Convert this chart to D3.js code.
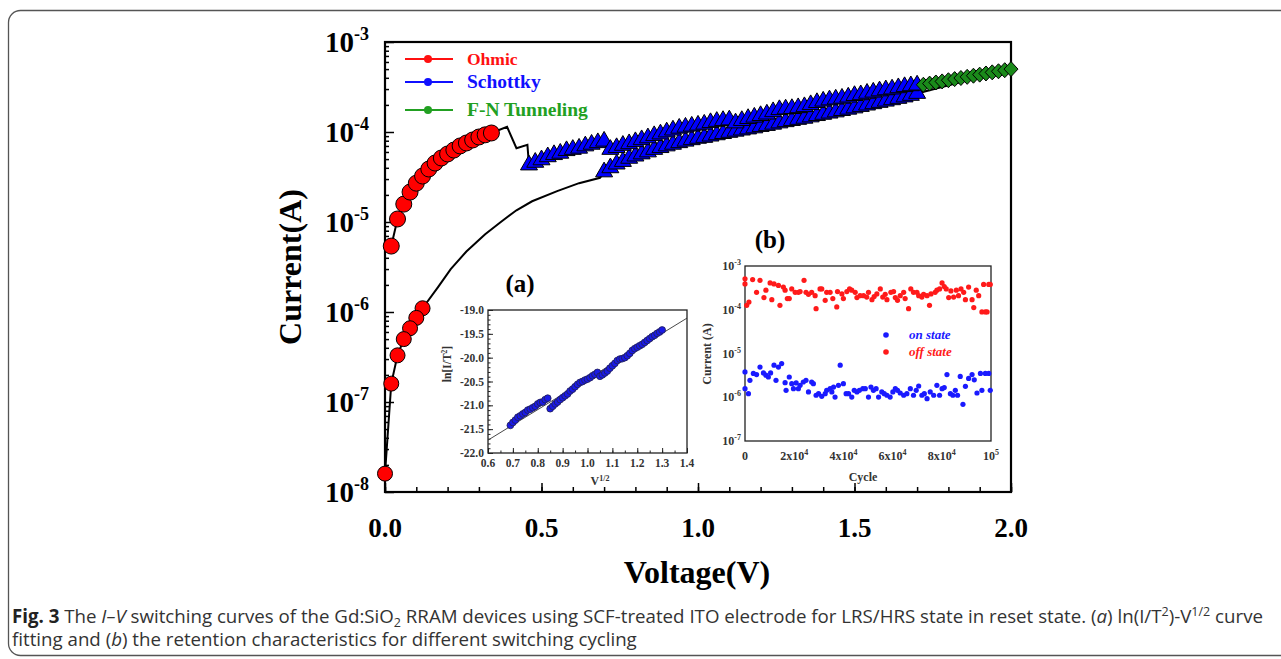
<!DOCTYPE html>
<html>
<head>
<meta charset="utf-8">
<script src="https://cdn.jsdelivr.net/npm/d3@7"></script>
<style>
  body { margin: 0; background: #fff; }
  svg { display: block; }
  .serif { font-family: "Liberation Serif", "DejaVu Serif", serif; font-weight: bold; }
  .cap { font-family: "Open Sans", sans-serif; fill: #333; }
</style>
</head>
<body>
<script>
// ---------- main I-V data ----------
var ohmicHighV = [0.02, 0.04, 0.06, 0.08, 0.10, 0.12, 0.14, 0.16, 0.18, 0.20, 0.22, 0.24, 0.26, 0.28, 0.30, 0.32, 0.34];
var ohmicHighI = [5.4e-6, 1.08e-5, 1.58e-5, 2.15e-5, 2.7e-5, 3.24e-5, 3.88e-5, 4.52e-5, 5.14e-5, 5.7e-5, 6.3e-5, 7.0e-5, 7.55e-5, 8.15e-5, 8.8e-5, 9.3e-5, 9.75e-5];

var resetV = [0.34, 0.39, 0.42, 0.455];
var resetI = [9.75e-5, 1.14e-4, 6.6e-5, 7.2e-5];

var schottkyUpV = [0.46, 0.48, 0.50, 0.52, 0.54, 0.56, 0.58, 0.60, 0.62, 0.64, 0.66, 0.68, 0.70,
  0.72, 0.74, 0.76, 0.78, 0.80, 0.82, 0.84, 0.86, 0.88, 0.90, 0.92, 0.94, 0.96, 0.98, 1.00,
  1.02, 1.04, 1.06, 1.08, 1.10, 1.12, 1.14, 1.16, 1.18, 1.20, 1.22, 1.24, 1.26, 1.28, 1.30,
  1.32, 1.34, 1.36, 1.38, 1.40, 1.42, 1.44, 1.46, 1.48, 1.50, 1.52, 1.54, 1.56, 1.58, 1.60,
  1.62, 1.64, 1.66, 1.68, 1.70];
var schottkyUpI = [4.3e-5, 4.6e-5, 4.9e-5, 5.3e-5, 5.6e-5, 5.8e-5, 6.2e-5, 6.4e-5, 6.6e-5, 7.0e-5, 7.3e-5, 7.6e-5, 7.9e-5,
  6.4e-5, 6.7e-5, 7.1e-5, 7.4e-5, 7.8e-5, 8.2e-5, 8.6e-5, 9.1e-5, 9.5e-5, 1.0e-4, 1.05e-4, 1.1e-4, 1.13e-4, 1.16e-4, 1.19e-4,
  1.22e-4, 1.27e-4, 1.31e-4, 1.34e-4, 1.36e-4, 1.26e-4, 1.34e-4, 1.41e-4, 1.46e-4, 1.52e-4, 1.58e-4, 1.68e-4, 1.77e-4, 1.80e-4, 1.82e-4,
  1.86e-4, 1.91e-4, 2.01e-4, 2.12e-4, 2.2e-4, 2.27e-4, 2.32e-4, 2.37e-4, 2.44e-4, 2.54e-4, 2.59e-4, 2.69e-4, 2.77e-4, 2.86e-4, 2.94e-4,
  3.0e-4, 3.1e-4, 3.19e-4, 3.26e-4, 3.32e-4];

var fnV = [1.72, 1.74, 1.76, 1.78, 1.80, 1.82, 1.84, 1.86, 1.88, 1.90, 1.92, 1.94, 1.96, 1.98, 2.00];
var fnI = [3.35e-4, 3.45e-4, 3.55e-4, 3.65e-4, 3.76e-4, 3.87e-4, 3.98e-4, 4.10e-4, 4.22e-4, 4.34e-4, 4.47e-4, 4.60e-4, 4.73e-4, 4.86e-4, 5.0e-4];

// reverse sweep (HRS), listed from high voltage to low
var schottkyDownV = [1.70, 1.68, 1.66, 1.64, 1.62, 1.60, 1.58, 1.56, 1.54, 1.52, 1.50, 1.48, 1.46, 1.44, 1.42, 1.40,
  1.38, 1.36, 1.34, 1.32, 1.30, 1.28, 1.26, 1.24, 1.22, 1.20, 1.18, 1.16, 1.14, 1.12, 1.10, 1.08, 1.06, 1.04,
  1.02, 1.00, 0.98, 0.96, 0.94, 0.92, 0.90, 0.88, 0.86, 0.84, 0.82, 0.80, 0.78, 0.76, 0.74, 0.72, 0.70];
var schottkyDownI = [2.68e-4, 2.55e-4, 2.45e-4, 2.36e-4, 2.28e-4, 2.20e-4, 2.13e-4, 2.06e-4, 1.99e-4, 1.92e-4, 1.85e-4, 1.79e-4, 1.73e-4, 1.67e-4, 1.62e-4, 1.57e-4,
  1.52e-4, 1.47e-4, 1.42e-4, 1.38e-4, 1.34e-4, 1.30e-4, 1.26e-4, 1.22e-4, 1.18e-4, 1.15e-4, 1.11e-4, 1.08e-4, 1.05e-4, 1.02e-4, 9.9e-5, 9.6e-5, 9.3e-5, 9.0e-5,
  8.7e-5, 8.5e-5, 8.2e-5, 7.9e-5, 7.6e-5, 7.3e-5, 7.0e-5, 6.7e-5, 6.4e-5, 6.0e-5, 5.7e-5, 5.4e-5, 5.1e-5, 4.7e-5, 4.4e-5, 4.0e-5, 3.6e-5];

var hrsLineV = [0.687, 0.62, 0.55, 0.47, 0.42, 0.37, 0.32, 0.26, 0.21, 0.17, 0.12];
var hrsLineI = [3.1e-5, 2.7e-5, 2.2e-5, 1.7e-5, 1.35e-5, 1.0e-5, 7.3e-6, 4.7e-6, 3.0e-6, 1.9e-6, 1.1e-6];

var ohmicLowV = [0.12, 0.10, 0.08, 0.06, 0.04, 0.02, 0.0];
var ohmicLowI = [1.1e-6, 8.6e-7, 6.6e-7, 5.0e-7, 3.3e-7, 1.6e-7, 1.6e-8];

var xTicksMain = [0.0, 0.5, 1.0, 1.5, 2.0];
var yExpMain = [-3, -4, -5, -6, -7, -8];

// ---------- inset (a): ln(I/T^2) vs V^1/2 ----------
var insetAX = [0.69, 0.70, 0.71, 0.72, 0.73, 0.74, 0.75, 0.76, 0.77, 0.78, 0.79, 0.80, 0.81, 0.82, 0.83, 0.84,
  0.85, 0.86, 0.87, 0.88, 0.89, 0.90, 0.91, 0.92, 0.93, 0.94, 0.95, 0.96, 0.97, 0.98, 0.99, 1.00, 1.01, 1.02,
  1.03, 1.04, 1.05, 1.06, 1.07, 1.08, 1.09, 1.10, 1.11, 1.12, 1.13, 1.14, 1.15, 1.16, 1.17, 1.18, 1.19, 1.20,
  1.21, 1.22, 1.23, 1.24, 1.25, 1.26, 1.27, 1.28, 1.29, 1.30];
var insetAY = [-21.42, -21.36, -21.31, -21.25, -21.22, -21.18, -21.15, -21.10, -21.08, -21.05, -21.02, -20.97, -20.94, -20.93, -20.88, -20.85,
  -21.07, -21.02, -20.97, -20.93, -20.88, -20.84, -20.80, -20.76, -20.70, -20.66, -20.61, -20.56, -20.52, -20.50, -20.47, -20.45, -20.42, -20.38,
  -20.35, -20.31, -20.39, -20.36, -20.32, -20.28, -20.22, -20.17, -20.12, -20.06, -20.03, -20.02, -20.00, -19.96, -19.91, -19.85, -19.81, -19.78,
  -19.75, -19.72, -19.68, -19.64, -19.60, -19.56, -19.53, -19.49, -19.46, -19.42];
var fitX = [0.6, 1.4];
var fitY = [-21.73, -19.17];
var insetAXTicks = [0.6, 0.7, 0.8, 0.9, 1.0, 1.1, 1.2, 1.3, 1.4];
var insetAYTicks = [-19.0, -19.5, -20.0, -20.5, -21.0, -21.5, -22.0];

// ---------- inset (b): retention vs cycle ----------
var offCycle = [0, 0, 700, 1600, 3100, 4700, 6100, 7700, 8500, 10200, 10900, 11800, 13600, 14200, 15600, 16300, 17200, 18000,
  19000, 20400, 21700, 22400, 24000, 24800, 25800, 27100, 28500, 28900, 30500, 31200, 32600, 33200, 34600, 35700, 37300,
  37600, 39400, 40000, 41400, 42500, 43400, 44800, 45500, 46800, 48200, 49500, 50200, 51600, 52500, 53600, 55000, 56000,
  57000, 57700, 59300, 60400, 61100, 62000, 63100, 64500, 65100, 66500, 67400, 68500, 69900, 70600, 71900, 72600, 74000,
  75000, 75600, 77300, 78000, 79100, 80100, 81000, 81800, 82800, 83700, 84800, 85900, 86800, 87800, 88900, 89600, 90900,
  92300, 93000, 94000, 95000, 96300, 97000, 97700, 98400, 99100, 99700];
var offCurrent = [5.1e-4, 3.9e-4, 1.26e-4, 1.5e-4, 4.9e-4, 2.5e-4, 4.7e-4, 1.9e-4, 2.8e-4, 4.1e-4, 1.7e-4, 3.9e-4, 3.6e-4, 1.26e-4, 3.3e-4, 2.8e-4, 1.8e-4, 1.8e-4,
  3.0e-4, 2.5e-4, 2.5e-4, 2.6e-4, 4.7e-4, 2.5e-4, 2.25e-4, 2.5e-4, 2.1e-4, 1.06e-4, 3.0e-4, 3.0e-4, 1.64e-4, 2.5e-4, 2.5e-4, 1.8e-4, 1.16e-4,
  2.6e-4, 2.3e-4, 1.8e-4, 2.6e-4, 3.0e-4, 2.8e-4, 2.5e-4, 1.9e-4, 2.1e-4, 2.1e-4, 1.95e-4, 2.5e-4, 1.7e-4, 2.0e-4, 2.3e-4, 3.0e-4, 1.95e-4,
  2.25e-4, 1.7e-4, 2.5e-4, 2.6e-4, 1.9e-4, 1.64e-4, 2.1e-4, 2.5e-4, 1.8e-4, 1.06e-4, 3.0e-4, 2.5e-4, 2.5e-4, 2.1e-4, 1.95e-4, 2.25e-4, 2.1e-4,
  1.26e-4, 2.3e-4, 2.5e-4, 2.8e-4, 3.0e-4, 4.1e-4, 3.4e-4, 3.0e-4, 1.9e-4, 2.7e-4, 1.95e-4, 2.8e-4, 2.1e-4, 3.0e-4, 2.5e-4, 1.7e-4, 3.3e-4,
  1.7e-4, 1.12e-4, 2.8e-4, 2.1e-4, 8.9e-5, 3.8e-4, 8.9e-5, 8.9e-5, 3.8e-4, 3.8e-4];
var onCycle = [0, 0, 1400, 2000, 3400, 4700, 6100, 7500, 8500, 9500, 10400, 11800, 12600, 13600, 14900, 16300, 16700, 18000,
  19000, 19700, 20800, 21700, 22400, 23700, 24800, 25800, 27100, 27800, 28900, 29900, 31200, 32600, 33200, 34600, 35300,
  36000, 36600, 38000, 38700, 40000, 41100, 42100, 43400, 44400, 45500, 46500, 47900, 48900, 50200, 51200, 52200, 53300,
  54300, 55600, 56600, 57700, 59000, 60100, 61100, 62000, 63100, 64500, 65800, 67200, 68500, 69600, 70600, 71900, 72900,
  74000, 75300, 76700, 78000, 79100, 80100, 81000, 82100, 83500, 84500, 85500, 86400, 87500, 88600, 89600, 90900, 92300,
  93200, 94300, 95700, 96300, 97700, 99100, 99700];
var onCurrent = [3.8e-6, 1.57e-6, 1.21e-6, 2.44e-6, 3.5e-6, 3.3e-6, 4.9e-6, 3.6e-6, 3.2e-6, 2.9e-6, 3.6e-6, 5.4e-6, 2.44e-6, 4.9e-6, 5.9e-6, 2.15e-6, 1.44e-6, 2.9e-6,
  2.04e-6, 1.57e-6, 2.12e-6, 1.57e-6, 1.87e-6, 2.23e-6, 2.44e-6, 1.32e-6, 2.23e-6, 2.04e-6, 1.11e-6, 1.21e-6, 1.05e-6, 1.21e-6, 1.44e-6, 1.57e-6, 1.32e-6,
  1.71e-6, 1.01e-6, 1.87e-6, 5.4e-6, 2.04e-6, 1.21e-6, 1.21e-6, 1.01e-6, 1.44e-6, 1.32e-6, 1.44e-6, 1.57e-6, 1.57e-6, 1.01e-6, 1.71e-6, 1.44e-6, 1.57e-6,
  1.01e-6, 1.32e-6, 1.21e-6, 1.11e-6, 1.01e-6, 1.32e-6, 1.57e-6, 1.44e-6, 1.25e-6, 1.11e-6, 1.21e-6, 1.57e-6, 1.11e-6, 1.44e-6, 1.81e-6, 1.11e-6, 1.21e-6,
  9.3e-7, 1.32e-6, 1.11e-6, 1.87e-6, 1.11e-6, 1.57e-6, 1.66e-6, 3.3e-6, 1.21e-6, 1.11e-6, 1.44e-6, 1.11e-6, 3.0e-6, 6.9e-7, 1.78e-6, 2.7e-6, 3.3e-6,
  2.5e-6, 1.25e-6, 3.5e-6, 1.44e-6, 3.5e-6, 3.5e-6, 1.44e-6];
var insetBYExp = [-3, -4, -5, -6, -7];
var insetBXTicks = [0, 20000, 40000, 60000, 80000, 100000];

var legendNames = ["Ohmic", "Schottky", "F-N Tunneling"];
var legendColors = ["#ff1010", "#1010ff", "#22a022"];

// ---------- svg ----------
var svg = d3.select("body").append("svg")
    .attr("width", 1281)
    .attr("height", 659);

// outer rounded frame
svg.append("rect")
    .attr("x", 8.5).attr("y", 10.5)
    .attr("width", 1300).attr("height", 645)
    .attr("rx", 12)
    .attr("fill", "none").attr("stroke", "#555").attr("stroke-width", 1.3);

function zip(a, b) { return a.map(function(d, i) { return [d, b[i]]; }); }

// scales for the main plot
var x = d3.scaleLinear().domain([0, 2]).range([385, 1011]);
var y = d3.scaleLog().domain([1e-8, 1e-3]).range([492, 42]);

// ticks (inward)
var isMajor = function(v) { return Math.abs(Math.log10(v) - Math.round(Math.log10(v))) < 1e-6; };
var gy = svg.append("g").attr("transform", "translate(385,0)");
gy.call(d3.axisLeft(y).tickValues(y.ticks().filter(function(v) { return !isMajor(v); })).tickSize(-4).tickFormat(""));
gy.append("g").call(d3.axisLeft(y).tickValues(y.ticks().filter(isMajor)).tickSize(-9).tickFormat(""));
gy.selectAll(".domain").remove();
gy.selectAll("line").attr("stroke", "#000").attr("stroke-width", 1.5);

var gx = svg.append("g").attr("transform", "translate(0,492)");
gx.call(d3.axisBottom(x).tickValues(d3.range(0, 2.01, 0.1)).tickSize(-5).tickFormat(""));
gx.append("g").call(d3.axisBottom(x).tickValues(xTicksMain).tickSize(-9).tickFormat(""));
gx.selectAll(".domain").remove();
gx.selectAll("line").attr("stroke", "#000").attr("stroke-width", 1.5);

svg.append("rect")
    .attr("x", 385).attr("y", 42).attr("width", 626).attr("height", 450)
    .attr("fill", "none").attr("stroke", "#000").attr("stroke-width", 2.2);

// tick labels
svg.selectAll(".xlab").data(xTicksMain).enter().append("text")
    .attr("class", "serif")
    .attr("x", function(d) { return x(d); })
    .attr("y", 537)
    .attr("text-anchor", "middle")
    .attr("font-size", 27)
    .text(function(d) { return d.toFixed(1); });

var ylab = svg.selectAll(".ylab").data(yExpMain).enter().append("text")
    .attr("class", "serif")
    .attr("x", 369)
    .attr("y", function(d) { return y(Math.pow(10, d)) + 10; })
    .attr("text-anchor", "end")
    .attr("font-size", 29);
ylab.append("tspan").text("10");
ylab.append("tspan").attr("dy", -12).attr("font-size", 18).text(function(d) { return d; });

svg.append("text").attr("class", "serif")
    .attr("x", 697).attr("y", 583)
    .attr("text-anchor", "middle").attr("font-size", 32)
    .text("Voltage(V)");
svg.append("text").attr("class", "serif")
    .attr("transform", "translate(301,267) rotate(-90)")
    .attr("text-anchor", "middle").attr("font-size", 32)
    .text("Current(A)");

// full sweep line
var sweep = [].concat(
  zip(ohmicHighV, ohmicHighI), zip(resetV, resetI), zip(schottkyUpV, schottkyUpI), zip(fnV, fnI),
  zip(schottkyDownV, schottkyDownI), zip(hrsLineV, hrsLineI), zip(ohmicLowV, ohmicLowI));
var line = d3.line().x(function(d) { return x(d[0]); }).y(function(d) { return y(d[1]); });
svg.append("path").datum(sweep)
    .attr("d", line)
    .attr("fill", "none").attr("stroke", "#000").attr("stroke-width", 2);

// markers
var tri = d3.symbol().type(d3.symbolTriangle).size(125);
svg.append("g").selectAll("path").data(zip(schottkyDownV, schottkyDownI).reverse()).enter().append("path")
    .attr("d", tri)
    .attr("transform", function(d) { return "translate(" + x(d[0]) + "," + y(d[1]) + ")"; })
    .attr("fill", "#0000ff").attr("stroke", "#000").attr("stroke-width", 1);
svg.append("g").selectAll("path").data(zip(schottkyUpV, schottkyUpI)).enter().append("path")
    .attr("d", tri)
    .attr("transform", function(d) { return "translate(" + x(d[0]) + "," + y(d[1]) + ")"; })
    .attr("fill", "#0000ff").attr("stroke", "#000").attr("stroke-width", 1);
svg.append("g").selectAll("path").data(zip(fnV, fnI)).enter().append("path")
    .attr("d", "M0,-7.5L7,0L0,7.5L-7,0Z")
    .attr("transform", function(d) { return "translate(" + x(d[0]) + "," + y(d[1]) + ")"; })
    .attr("fill", "#1a8a1a").attr("stroke", "#000").attr("stroke-width", 1);
svg.append("g").selectAll("circle").data(zip(ohmicHighV, ohmicHighI)).enter().append("circle")
    .attr("cx", function(d) { return x(d[0]); })
    .attr("cy", function(d) { return y(d[1]); })
    .attr("r", 8)
    .attr("fill", "#ff0000").attr("stroke", "#000").attr("stroke-width", 1);
svg.append("g").selectAll("circle").data(zip(ohmicLowV, ohmicLowI)).enter().append("circle")
    .attr("cx", function(d) { return x(d[0]); })
    .attr("cy", function(d) { return y(d[1]); })
    .attr("r", 7.5)
    .attr("fill", "#ff0000").attr("stroke", "#000").attr("stroke-width", 1);

// legend
var leg = svg.append("g").selectAll("g").data(legendNames).enter().append("g")
    .attr("transform", function(d, i) { return "translate(405," + [59, 82, 110][i] + ")"; });
leg.append("line").attr("x1", 0).attr("x2", 48)
    .attr("stroke", function(d, i) { return legendColors[i]; }).attr("stroke-width", 2);
leg.append("circle").attr("cx", 23).attr("r", 4)
    .attr("fill", function(d, i) { return legendColors[i]; });
leg.append("text").attr("class", "serif")
    .attr("x", 62).attr("y", 6)
    .attr("font-size", function(d, i) { return [17.5, 19.5, 19.5][i]; })
    .attr("fill", function(d, i) { return legendColors[i]; })
    .text(function(d) { return d; });

// ---------- inset (a) ----------
var ax = d3.scaleLinear().domain([0.6, 1.4]).range([488, 687]);
var ay = d3.scaleLinear().domain([-22, -19]).range([453, 310]);
var ga = svg.append("g");
var gax = ga.append("g").attr("transform", "translate(0,453)");
gax.call(d3.axisBottom(ax).tickValues(d3.range(0.6, 1.401, 0.05)).tickSize(-2.5).tickFormat(""));
gax.append("g").call(d3.axisBottom(ax).tickValues(insetAXTicks).tickSize(-5).tickFormat(""));
var gay = ga.append("g").attr("transform", "translate(488,0)");
gay.call(d3.axisLeft(ay).tickValues(d3.range(-22, -18.99, 0.1)).tickSize(-2.5).tickFormat(""));
gay.append("g").call(d3.axisLeft(ay).tickValues(insetAYTicks).tickSize(-5).tickFormat(""));
ga.selectAll(".domain").remove();
ga.selectAll("line").attr("stroke", "#222").attr("stroke-width", 1);
ga.append("rect").attr("x", 488).attr("y", 310).attr("width", 199).attr("height", 143)
    .attr("fill", "none").attr("stroke", "#222").attr("stroke-width", 1.3);
ga.selectAll(".axl").data(insetAXTicks).enter().append("text").attr("class", "serif")
    .attr("x", function(d) { return ax(d); }).attr("y", 467)
    .attr("text-anchor", "middle").attr("font-size", 11.5).attr("fill", "#333")
    .text(function(d) { return d.toFixed(1); });
ga.selectAll(".ayl").data(insetAYTicks).enter().append("text").attr("class", "serif")
    .attr("x", 484).attr("y", function(d) { return ay(d) + 4; })
    .attr("text-anchor", "end").attr("font-size", 11.5).attr("fill", "#333")
    .text(function(d) { return d.toFixed(1); });
ga.append("path").datum(zip(fitX, fitY))
    .attr("d", d3.line().x(function(d) { return ax(d[0]); }).y(function(d) { return ay(d[1]); }))
    .attr("stroke", "#333").attr("stroke-width", 0.9).attr("fill", "none");
ga.append("g").selectAll("circle").data(zip(insetAX, insetAY)).enter().append("circle")
    .attr("cx", function(d) { return ax(d[0]); })
    .attr("cy", function(d) { return ay(d[1]); })
    .attr("r", 3.4)
    .attr("fill", "#1a1ae6").attr("stroke", "#222050").attr("stroke-width", 0.8);
var axlab = ga.append("text").attr("class", "serif")
    .attr("x", 600).attr("y", 485).attr("text-anchor", "middle").attr("font-size", 12).attr("fill", "#333");
axlab.append("tspan").text("V");
axlab.append("tspan").attr("dy", -4).attr("font-size", 8).text("1/2");
var aylab = ga.append("text").attr("class", "serif")
    .attr("transform", "translate(451,364) rotate(-90)").attr("text-anchor", "middle")
    .attr("font-size", 11.5).attr("fill", "#333");
aylab.append("tspan").text("ln[I/T");
aylab.append("tspan").attr("dy", -4).attr("font-size", 7.5).text("2");
aylab.append("tspan").attr("dy", 4).text("]");
svg.append("text").attr("class", "serif")
    .attr("x", 520).attr("y", 292).attr("text-anchor", "middle").attr("font-size", 25)
    .text("(a)");

// ---------- inset (b) ----------
var bx = d3.scaleLinear().domain([0, 1e5]).range([745, 991]);
var by = d3.scaleLog().domain([1e-7, 1e-3]).range([441, 266]);
var gb = svg.append("g");
gb.append("rect").attr("x", 745).attr("y", 266).attr("width", 246).attr("height", 175)
    .attr("fill", "none").attr("stroke", "#222").attr("stroke-width", 1.3);
gb.append("g").selectAll("circle").data(zip(offCycle, offCurrent)).enter().append("circle")
    .attr("cx", function(d) { return bx(d[0]); })
    .attr("cy", function(d) { return by(d[1]); })
    .attr("r", 2.6).attr("fill", "#ff1a1a");
gb.append("g").selectAll("circle").data(zip(onCycle, onCurrent)).enter().append("circle")
    .attr("cx", function(d) { return bx(d[0]); })
    .attr("cy", function(d) { return by(d[1]); })
    .attr("r", 2.6).attr("fill", "#1a1aff");
var byl = gb.selectAll(".byl").data(insetBYExp).enter().append("text").attr("class", "serif")
    .attr("x", 741).attr("y", function(d) { return by(Math.pow(10, d)) + 4; })
    .attr("text-anchor", "end").attr("font-size", 12).attr("fill", "#333");
byl.append("tspan").text("10");
byl.append("tspan").attr("dy", -5).attr("font-size", 8).text(function(d) { return d; });
var bxl = gb.selectAll(".bxl").data(insetBXTicks).enter().append("text").attr("class", "serif")
    .attr("x", function(d) { return bx(d); }).attr("y", 460)
    .attr("text-anchor", "middle").attr("font-size", 12).attr("fill", "#333");
bxl.each(function(d) {
  var t = d3.select(this);
  if (d === 0) { t.text("0"); return; }
  if (d === 100000) { t.append("tspan").text("10"); t.append("tspan").attr("dy", -5).attr("font-size", 8).text("5"); return; }
  t.append("tspan").text((d / 10000) + "x10");
  t.append("tspan").attr("dy", -5).attr("font-size", 8).text("4");
});
gb.append("text").attr("class", "serif")
    .attr("x", 863).attr("y", 481).attr("text-anchor", "middle").attr("font-size", 12).attr("fill", "#333")
    .text("Cycle");
gb.append("text").attr("class", "serif")
    .attr("transform", "translate(711,354) rotate(-90)").attr("text-anchor", "middle")
    .attr("font-size", 12).attr("fill", "#333")
    .text("Current (A)");
var bleg = gb.selectAll(".bleg").data(["on state", "off state"]).enter().append("g")
    .attr("transform", function(d, i) { return "translate(886," + (335 + i * 17) + ")"; });
bleg.append("circle").attr("r", 2.8).attr("fill", function(d, i) { return i ? "#ff1a1a" : "#1a1aff"; });
bleg.append("text").attr("class", "serif")
    .attr("x", 23).attr("y", 4).attr("font-size", 13).attr("font-style", "italic")
    .attr("font-weight", "normal")
    .attr("fill", function(d, i) { return i ? "#ff1a1a" : "#1a1aff"; })
    .text(function(d) { return d; });
svg.append("text").attr("class", "serif")
    .attr("x", 770).attr("y", 248).attr("text-anchor", "middle").attr("font-size", 25)
    .text("(b)");

// ---------- caption ----------
var capSize = 18.7;
var c1 = svg.append("text").attr("class", "cap").attr("x", 12).attr("y", 623).attr("font-size", capSize);
c1.append("tspan").attr("font-weight", "bold").attr("fill", "#222").text("Fig. 3");
c1.append("tspan").text(" The ");
c1.append("tspan").attr("font-style", "italic").text("I–V");
c1.append("tspan").text(" switching curves of the Gd:SiO");
c1.append("tspan").attr("font-size", 12.5).attr("dy", 4).text("2");
c1.append("tspan").attr("dy", -4).text(" RRAM devices using SCF-treated ITO electrode for LRS/HRS state in reset state. (");
c1.append("tspan").attr("font-style", "italic").text("a");
c1.append("tspan").text(") ln(I/T");
c1.append("tspan").attr("font-size", 12.5).attr("dy", -7).text("2");
c1.append("tspan").attr("dy", 7).text(")-V");
c1.append("tspan").attr("font-size", 12.5).attr("dy", -7).text("1/2");
c1.append("tspan").attr("dy", 7).text(" curve");
var c2 = svg.append("text").attr("class", "cap").attr("x", 12).attr("y", 646).attr("font-size", capSize);
c2.append("tspan").text("fitting and (");
c2.append("tspan").attr("font-style", "italic").text("b");
c2.append("tspan").text(") the retention characteristics for different switching cycling");
</script>
</body>
</html>
